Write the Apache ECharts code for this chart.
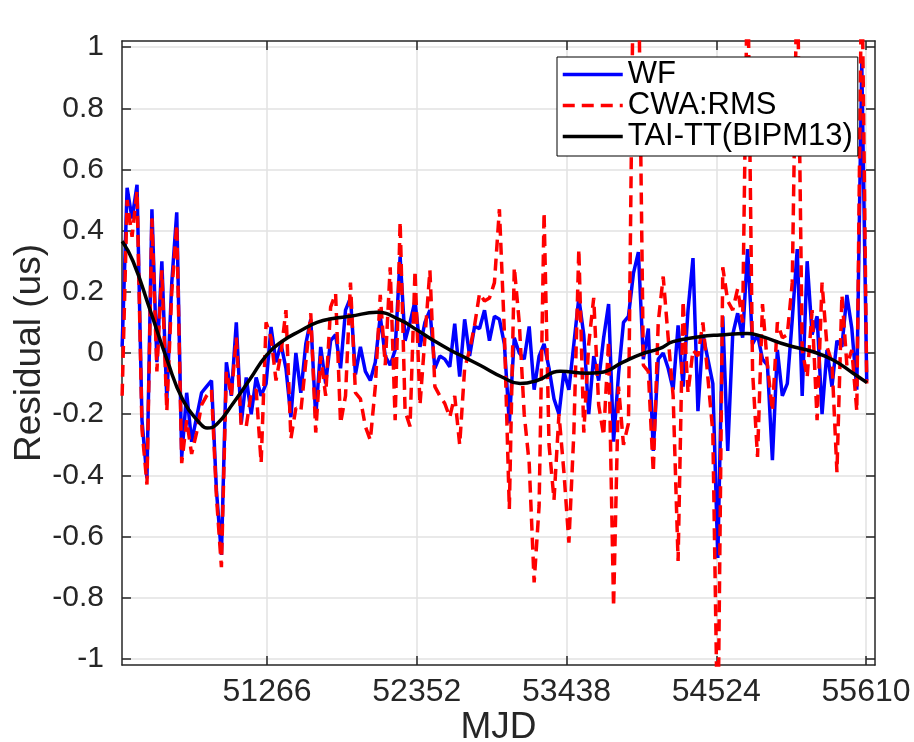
<!DOCTYPE html>
<html>
<head>
<meta charset="utf-8">
<title>Residual vs MJD</title>
<script src="https://cdn.jsdelivr.net/npm/echarts@6/dist/echarts.min.js"></script>
<style>
  html, body { margin: 0; padding: 0; background: #ffffff; }
  #chart { width: 914px; height: 742px; }
</style>
</head>
<body>
<div id="chart"></div>
<script>
// Sample epochs (MJD) shared by the WF and CWA:RMS residual series
const mjd = [
  50215, 50251, 50287, 50323, 50359, 50395, 50431, 50467, 50503, 50539,
  50575, 50611, 50647, 50683, 50719, 50755, 50791, 50827, 50863, 50899,
  50935, 50971, 51007, 51043, 51079, 51115, 51151, 51187, 51223, 51259,
  51295, 51331, 51367, 51403, 51439, 51475, 51511, 51547, 51583, 51619,
  51655, 51691, 51727, 51763, 51799, 51835, 51871, 51907, 51943, 51979,
  52015, 52051, 52087, 52123, 52159, 52195, 52231, 52267, 52303, 52339,
  52375, 52411, 52447, 52483, 52519, 52555, 52591, 52627, 52663, 52699,
  52735, 52771, 52807, 52843, 52879, 52915, 52951, 52987, 53023, 53059,
  53095, 53131, 53167, 53203, 53239, 53275, 53311, 53347, 53383, 53419,
  53455, 53491, 53527, 53563, 53599, 53635, 53671, 53707, 53743, 53779,
  53815, 53851, 53887, 53923, 53959, 53995, 54031, 54067, 54103, 54139,
  54175, 54211, 54247, 54283, 54319, 54355, 54391, 54427, 54463, 54499,
  54535, 54571, 54607, 54643, 54679, 54715, 54751, 54787, 54823, 54859,
  54895, 54931, 54967, 55003, 55039, 55075, 55111, 55147, 55183, 55219,
  55255, 55291, 55327, 55363, 55399, 55435, 55471, 55507, 55543, 55579,
  55615
];

// WF residuals (us)
const wf = [
  0.02, 0.54, 0.44, 0.55, -0.22, -0.41, 0.47, -0.03, 0.30, -0.15,
  0.23, 0.46, -0.34, -0.13, -0.29, -0.21, -0.13, -0.11, -0.09, -0.45,
  -0.66, -0.03, -0.14, 0.10, -0.23, -0.08, -0.20, -0.08, -0.14, -0.10,
  0.085, -0.03, 0.03, -0.05, -0.21, 0.00, -0.13, 0.03, 0.11, -0.21,
  0.02, -0.10, 0.04, 0.06, -0.05, 0.14, 0.18, -0.07, 0.02, -0.06,
  -0.09, -0.03, 0.12, -0.01, -0.04, 0.01, 0.315, 0.04, 0.10, 0.17,
  0.02, 0.10, 0.14, -0.05, -0.01, -0.02, -0.045, 0.096, -0.077, 0.11,
  -0.01, 0.087, 0.08, 0.14, 0.04, 0.12, 0.11, 0.03, -0.23, 0.05,
  0.00, -0.02, 0.087, -0.12, -0.01, 0.03, -0.05, -0.15, -0.20, -0.06,
  -0.12, 0.03, 0.18, 0.06, -0.20, -0.01, -0.09, 0.05, 0.16, -0.29,
  -0.07, 0.10, 0.12, 0.26, 0.33, -0.02, 0.08, -0.32, -0.02, 0.00,
  -0.05, -0.12, 0.09, -0.11, 0.14, 0.31, -0.19, 0.06, -0.02, -0.10,
  -0.67, 0.12, -0.32, 0.06, 0.13, 0.05, 0.34, 0.03, 0.06, -0.02,
  -0.04, -0.35, 0.01, -0.14, -0.10, 0.11, 0.34, -0.14, 0.30, 0.06,
  0.12, -0.20, 0.01, -0.11, 0.04, 0.02, 0.19, 0.08, -0.12, 0.95,
  -0.09
];

// CWA:RMS residuals (us); the largest excursions run past the plotted range
const cwa = [
  -0.14, 0.50, 0.38, 0.53, -0.25, -0.43, 0.44, -0.06, 0.27, -0.19,
  0.20, 0.42, -0.36, -0.22, -0.33, -0.26, -0.17, -0.14, -0.12, -0.47,
  -0.70, -0.06, -0.14, 0.05, -0.24, -0.24, -0.13, -0.12, -0.36, 0.10,
  0.05, -0.09, 0.00, 0.14, -0.28, -0.18, -0.19, -0.03, 0.13, -0.26,
  -0.01, -0.14, 0.15, 0.195, -0.23, -0.14, 0.23, -0.13, -0.15, -0.24,
  -0.285, -0.11, 0.19, -0.04, 0.28, -0.22, 0.43, -0.19, -0.24, 0.27,
  -0.17, 0.05, 0.27, -0.11, -0.14, -0.165, -0.21, -0.14, -0.30, -0.05,
  0.01, 0.09, 0.195, 0.17, 0.18, 0.23, 0.47, 0.07, -0.51, 0.28,
  0.10, -0.20, -0.36, -0.75, -0.50, 0.46, -0.30, -0.48, -0.20, -0.39,
  -0.62, -0.26, 0.34, -0.26, 0.03, 0.18, -0.17, -0.27, 0.04, -0.83,
  -0.11, -0.30, -0.23, 1.30, 1.30, -0.04, -0.06, -0.39, 0.10, 0.25,
  0.05, -0.14, -0.68, 0.17, -0.13, 0.01, -0.01, 0.10, -0.08, -0.26,
  -1.30, 0.28, 0.17, 0.14, 0.21, 0.10, 1.30, -0.06, -0.34, 0.16,
  -0.04, -0.19, 0.10, 0.05, 0.06, 0.23, 1.30, 0.01, -0.08, 0.14,
  -0.22, 0.23, 0.02, -0.03, -0.39, 0.19, -0.04, 0.01, -0.19, 1.30,
  -0.10
];

// TAI-TT(BIPM13) reference curve
const taiMjd = [
  50215, 50294, 50418, 50539, 50657, 50780, 50831, 50903, 51019, 51143,
  51266, 51382, 51505, 51629, 51745, 51868, 52064, 52230, 52354, 52470,
  52593, 52702, 52811, 52977, 53101, 53224, 53391, 53587, 53681, 53848,
  53971, 54116, 54210, 54406, 54551, 54747, 54841, 55037, 55226, 55371,
  55516, 55617
];
const taiTT = [
  0.365, 0.30, 0.14, -0.02, -0.155, -0.23, -0.245, -0.232, -0.165, -0.085,
  -0.005, 0.04, 0.072, 0.10, 0.113, 0.12, 0.133, 0.108, 0.075, 0.042,
  0.01, -0.015, -0.04, -0.08, -0.10, -0.09, -0.06, -0.066, -0.064, -0.03,
  -0.005, 0.015, 0.037, 0.053, 0.059, 0.064, 0.056, 0.026, 0.004, -0.023,
  -0.066, -0.097
];

// Axis ticks
const xTicks = [51266, 52352, 53438, 54524, 55610];
const yTicks = [-1, -0.8, -0.6, -0.4, -0.2, 0, 0.2, 0.4, 0.6, 0.8, 1];

const FONT = 'Liberation Sans, Arial, Helvetica, sans-serif';
const INK = '#262626';
const GRID = '#e2e2e2';
const X_RANGE = [50214, 55675];
const Y_RANGE = [-1.02, 1.02];
const LINE_W = 3.5;

const pair = (xs, ys) => xs.map((x, i) => [x, ys[i]]);

// Frame edges: every side of the box is drawn at the plot border, never at zero
const boxLine = { show: true, onZero: false, lineStyle: { color: INK, width: 1.5 } };
const innerTicks = (values) => ({
  show: true, inside: true, length: 9, customValues: values,
  lineStyle: { color: INK, width: 1.5 }
});

const chart = echarts.init(document.getElementById('chart'), null, { renderer: 'canvas' });

chart.setOption({
  animation: false,
  backgroundColor: '#ffffff',
  grid: {
    left: 122, right: 39, top: 41, bottom: 77,
    containLabel: false, outerBoundsMode: 'none'
  },
  xAxis: [
    {
      type: 'value', position: 'bottom', min: X_RANGE[0], max: X_RANGE[1],
      axisLine: boxLine,
      axisTick: innerTicks(xTicks),
      axisLabel: {
        customValues: xTicks, color: INK, fontFamily: FONT, fontSize: 32, margin: 11,
        formatter: (v) => String(v)
      },
      splitLine: { show: true, lineStyle: { color: GRID, width: 1.5 } },
      name: 'MJD', nameLocation: 'middle', nameGap: 44, nameMoveOverlap: false,
      nameTextStyle: { color: INK, fontFamily: FONT, fontSize: 37 }
    },
    {
      type: 'value', position: 'top', min: X_RANGE[0], max: X_RANGE[1],
      axisLine: boxLine,
      axisTick: innerTicks(xTicks),
      axisLabel: { show: false },
      splitLine: { show: false }
    }
  ],
  yAxis: [
    {
      type: 'value', position: 'left', min: Y_RANGE[0], max: Y_RANGE[1],
      axisLine: boxLine,
      axisTick: innerTicks(yTicks),
      axisLabel: {
        customValues: yTicks, color: INK, fontFamily: FONT, fontSize: 30, margin: 18,
        formatter: (v) => String(v)
      },
      splitLine: { show: true, lineStyle: { color: GRID, width: 1.5 } },
      name: 'Residual (us)', nameLocation: 'middle', nameGap: 74, nameRotate: 90,
      nameMoveOverlap: false,
      nameTextStyle: { color: INK, fontFamily: FONT, fontSize: 37 }
    },
    {
      type: 'value', position: 'right', min: Y_RANGE[0], max: Y_RANGE[1],
      axisLine: boxLine,
      axisTick: innerTicks(yTicks),
      axisLabel: { show: false },
      splitLine: { show: false }
    }
  ],
  legend: {
    orient: 'vertical', left: 557, top: 57,
    itemWidth: 60, itemHeight: 14, itemGap: 0,
    padding: [2, 5, 4, 4],
    backgroundColor: '#ffffff', borderColor: '#000000', borderWidth: 1,
    // plain line samples, no marker in the middle
    itemStyle: { opacity: 0 },
    lineStyle: { width: LINE_W },
    textStyle: { color: '#000000', fontFamily: FONT, fontSize: 31, lineHeight: 31 },
    data: ['WF', 'CWA:RMS', 'TAI-TT(BIPM13)']
  },
  series: [
    {
      name: 'WF', type: 'line', xAxisIndex: 0, yAxisIndex: 0,
      data: pair(mjd, wf), symbol: 'none', z: 2,
      lineStyle: { color: '#0000ff', width: LINE_W }, itemStyle: { color: '#0000ff' }
    },
    {
      name: 'CWA:RMS', type: 'line', xAxisIndex: 0, yAxisIndex: 0,
      data: pair(mjd, cwa), symbol: 'none', z: 3,
      lineStyle: { color: '#ff0000', width: LINE_W, type: [12, 7] }, itemStyle: { color: '#ff0000' }
    },
    {
      name: 'TAI-TT(BIPM13)', type: 'line', xAxisIndex: 0, yAxisIndex: 0,
      data: pair(taiMjd, taiTT), symbol: 'none', z: 4, smooth: 0.5,
      lineStyle: { color: '#000000', width: LINE_W }, itemStyle: { color: '#000000' }
    }
  ]
});
</script>
</body>
</html>
